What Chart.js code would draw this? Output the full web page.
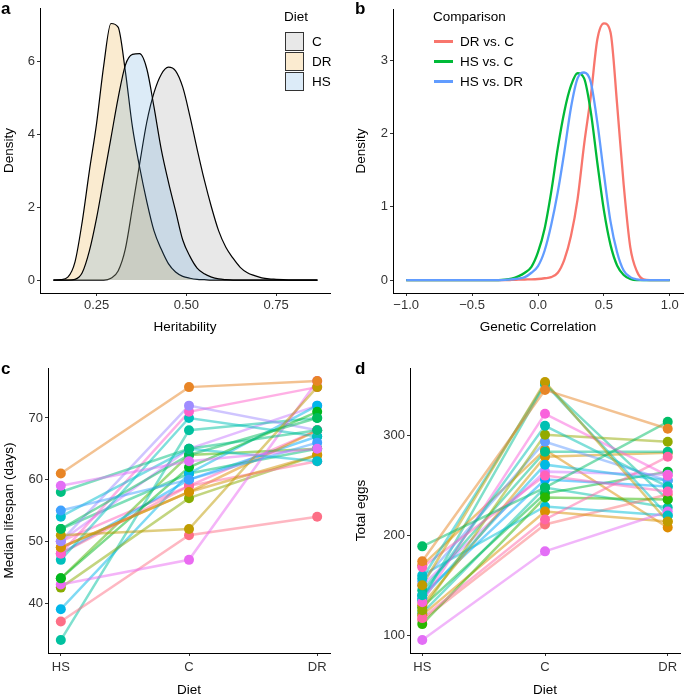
<!DOCTYPE html>
<html>
<head>
<meta charset="utf-8">
<script src="https://cdn.jsdelivr.net/npm/chart.js@4.4.0/dist/chart.umd.min.js"></script>
<style>
  body { margin: 0; width: 685px; height: 695px; overflow: hidden; background: #fff; position: relative;
         font-family: "Liberation Sans", Arial, sans-serif; }
  canvas { position: absolute; }
  .tag { position: absolute; font-weight: bold; font-size: 17px; line-height: 17px; color: #000; }
  .leg { position: absolute; font-size: 13.5px; line-height: 15px; color: #000; white-space: nowrap; }
  .box { position: absolute; width: 17px; height: 17px; border: 1.3px solid #333; }
  .seg { position: absolute; width: 19px; height: 2.5px; }
</style>
</head>
<body>
<canvas id="cA" width="340" height="365" style="left:0;top:-20px"></canvas>
<canvas id="cB" width="345" height="365" style="left:340px;top:-20px"></canvas>
<canvas id="cC" width="340" height="360" style="left:0;top:345px"></canvas>
<canvas id="cD" width="345" height="360" style="left:340px;top:345px"></canvas>

<div class="tag" style="left:1px;top:0px">a</div>
<div class="tag" style="left:355px;top:0px">b</div>
<div class="tag" style="left:1px;top:360px">c</div>
<div class="tag" style="left:355px;top:360px">d</div>

<!-- leyenda panel a -->
<div class="leg" style="left:284px;top:9px">Diet</div>
<div class="box" style="left:285px;top:32px;background:#e8e8e8"></div>
<div class="box" style="left:285px;top:52px;background:#fbebd0"></div>
<div class="box" style="left:285px;top:72px;background:#dcebf8"></div>
<div class="leg" style="left:312px;top:34px">C</div>
<div class="leg" style="left:312px;top:54px">DR</div>
<div class="leg" style="left:312px;top:74px">HS</div>

<!-- leyenda panel b -->
<div class="leg" style="left:433px;top:9px">Comparison</div>
<div class="seg" style="left:434px;top:40px;background:#F8766D"></div>
<div class="seg" style="left:434px;top:60px;background:#00BA38"></div>
<div class="seg" style="left:434px;top:80px;background:#619CFF"></div>
<div class="leg" style="left:460px;top:34px">DR vs. C</div>
<div class="leg" style="left:460px;top:54px">HS vs. C</div>
<div class="leg" style="left:460px;top:74px">HS vs. DR</div>

<script>
// ---- datos panel a: densidad de heredabilidad ----
const heritX = [0.13,0.15,0.17,0.19,0.21,0.23,0.25,0.27,0.29,0.31,0.33,0.35,0.37,0.39,0.41,0.43,0.45,0.47,0.49,
                0.51,0.53,0.55,0.57,0.59,0.61,0.63,0.65,0.67,0.69,0.71,0.73,0.75,0.77,0.79,0.81,0.83,0.85,0.865];
const densC  = [0,0,0,0,0,0,0,0,0.05,0.25,0.85,2.0,3.2,4.35,5.15,5.65,5.85,5.75,5.3,
                4.5,3.6,2.75,2.0,1.35,0.9,0.6,0.35,0.2,0.12,0.06,0.03,0.02,0.01,0,0,0,0,0];
const densDR = [0,0.01,0.08,0.5,1.6,3.0,4.3,5.9,7.05,6.95,5.75,4.2,3.1,2.15,1.35,0.85,0.45,0.22,0.1,
                0.05,0.02,0.01,0,0,0,0,0,0,0,0,0,0,0,0,0,0,0,0];
const densHS = [0,0,0,0.02,0.2,0.8,1.7,2.8,3.9,5.0,5.9,6.2,6.22,5.8,4.75,3.6,2.7,1.9,1.1,
                0.65,0.33,0.17,0.08,0.03,0.01,0,0,0,0,0,0,0,0,0,0,0,0,0];

// ---- datos panel b: correlación genética ----
const corrX    = [-1.0,-0.5,-0.3,-0.25,-0.2,-0.15,-0.1,-0.05,0.0,0.05,0.1,0.15,0.2,0.25,0.3,0.35,0.4,0.45,0.5,0.55,0.6,0.65,0.7,0.75,0.8,0.85,0.9,1.0];
const drVsC    = [0,0,0,0,0.002,0.005,0.008,0.01,0.015,0.025,0.04,0.1,0.28,0.6,1.1,1.85,2.5,3.28,3.5,3.38,2.4,1.3,0.45,0.12,0.01,0,0,0];
const hsVsC    = [0,0,0,0.005,0.02,0.05,0.1,0.18,0.38,0.7,1.2,1.8,2.3,2.65,2.82,2.75,2.3,1.6,0.95,0.48,0.2,0.07,0.015,0,0,0,0,0];
const hsVsDR   = [0,0,0,0.003,0.01,0.02,0.04,0.1,0.19,0.4,0.75,1.2,1.75,2.35,2.75,2.83,2.7,2.15,1.45,0.8,0.38,0.13,0.04,0.01,0,0,0,0];

// ---- datos paneles c y d: una línea por genotipo ----
const diets  = ['HS', 'C', 'DR'];
const lifeHS = [61,59,58,55,54,52,51,50,49,48,47,48,44,43,42.5,39,37,34,50,52,49,48,44,50];
const lifeC  = [75,63,65,60,65,64,52,72,58,71,70,59,62,47,57,61,51,68,65,61,58,60,64,59];
const lifeDR = [76,65,68,66,63,70,75,68,64,75,67,63,71,76,64,72,54,70,72,65,68,67,65,68];
const eggsHS = [174,189,150,157,95,168,140,133,125,117,111,154,137,145,130,120,160,115,150,140,128,170,135,122];
const eggsC  = [346,248,354,352,184,260,310,322,301,216,238,294,271,284,279,224,229,211,264,256,242,286,352,248];
const eggsDR = [307,314,214,220,224,244,249,260,294,279,236,255,255,284,283,214,220,241,261,249,264,208,236,228];

// tonos (estilo) de cada línea
const lifeHue = [35,300,160,250,200,145,70,270,55,330,190,355,130,305,100,220,5,175,285,155,45,240,120,340];
const eggHue  = [35,150,70,195,300,340,185,320,95,350,125,255,215,165,55,50,205,10,290,245,135,45,170,180];

// color hcl como ggplot (c=100, l=65)
function hcl(h, c = 100, l = 65) {
  const hr = h * Math.PI / 180;
  const U = c * Math.cos(hr), V = c * Math.sin(hr);
  const Y = Math.pow((l + 16) / 116, 3);
  const un = 0.19784, vn = 0.46834;
  const u = U / (13 * l) + un, v = V / (13 * l) + vn;
  const X = Y * 9 * u / (4 * v);
  const Z = Y * (12 - 3 * u - 20 * v) / (4 * v);
  const lin = [3.2406 * X - 1.5372 * Y - 0.4986 * Z,
               -0.9689 * X + 1.8758 * Y + 0.0415 * Z,
               0.0557 * X - 0.2040 * Y + 1.0570 * Z];
  return lin.map(t => {
    t = Math.max(0, Math.min(1, t));
    return Math.round(255 * (t <= 0.0031308 ? 12.92 * t : 1.055 * Math.pow(t, 1 / 2.4) - 0.055));
  });
}

const FAM = '"Liberation Sans", Arial, sans-serif';
const tickFont = { family: FAM, size: 13 };
const titleFont = { family: FAM, size: 13.5 };

function scale(o) {
  return {
    type: 'linear', min: o.min, max: o.max,
    afterBuildTicks: s => { s.ticks = o.ticks.map(v => ({ value: v })); },
    afterFit: s => {
      if (o.width) s.width = o.width;
      if (o.height) s.height = o.height;
    },
    border: { display: true, color: '#000', width: 1 },
    grid: { display: true, drawOnChartArea: false, tickLength: 3, tickColor: '#333', tickWidth: 1 },
    ticks: { color: '#333', font: tickFont, padding: o.tickPad || 2, maxRotation: 0, autoSkip: false, callback: o.fmt },
    title: { display: true, text: o.title, color: '#000', font: titleFont, padding: { top: o.tpad, bottom: o.tpad } }
  };
}

const baseOpts = (pad, x, y) => ({
  responsive: false, animation: false, events: [],
  layout: { padding: pad },
  plugins: { legend: { display: false }, tooltip: { enabled: false } },
  scales: { x, y }
});

const pts = (xs, ys) => xs.map((x, i) => ({ x, y: ys[i] }));

// ---- panel a ----
new Chart(document.getElementById('cA'), {
  type: 'line',
  data: {
    datasets: [
      { data: pts(heritX, densC), backgroundColor: 'rgba(140,140,140,0.2)', order: 3 },
      { data: pts(heritX, densDR), backgroundColor: 'rgba(230,155,20,0.2)', order: 2 },
      { data: pts(heritX, densHS), backgroundColor: 'rgba(80,155,215,0.2)', order: 1 }
    ].map(d => Object.assign(d, { fill: 'origin', borderColor: '#000', borderWidth: 1.2, pointRadius: 0, cubicInterpolationMode: 'monotone' }))
  },
  options: baseOpts({ top: 28, right: 10, left: 0, bottom: 0 },
    scale({ min: 0.0925, max: 0.9, ticks: [0.25, 0.5, 0.75], fmt: v => v.toFixed(2), title: 'Heritability', height: 52, tpad: 9.9 }),
    scale({ min: -0.356, max: 7.476, ticks: [0, 2, 4, 6], fmt: v => String(v), title: 'Density', width: 40, tpad: 0.9 }))
});

// ---- panel b ----
const compColors = ['#F8766D', '#00BA38', '#619CFF'];
new Chart(document.getElementById('cB'), {
  type: 'line',
  data: {
    datasets: [drVsC, hsVsC, hsVsDR].map((ys, i) => ({
      data: pts(corrX, ys), borderColor: compColors[i], borderWidth: 2.3, pointRadius: 0,
      fill: false, cubicInterpolationMode: 'monotone', order: 3 - i
    }))
  },
  options: baseOpts({ top: 29, right: 2, left: 0, bottom: 0 },
    scale({ min: -1.1, max: 1.1, ticks: [-1, -0.5, 0, 0.5, 1], fmt: v => (v < 0 ? '\u2212' : '') + Math.abs(v).toFixed(1), title: 'Genetic Correlation', height: 52, tpad: 9.9 }),
    scale({ min: -0.176, max: 3.696, ticks: [0, 1, 2, 3], fmt: v => String(v), title: 'Density', width: 53, tpad: 13.6 }))
});

// ---- paneles c y d ----
function paired(id, hs, c, dr, hues, yOpts, pad, yWidth, yTpad) {
  const lines = [], dots = [];
  hs.forEach((v, i) => {
    const [r, g, b] = hcl(hues[i]);
    const data = pts([1, 2, 3], [hs[i], c[i], dr[i]]);
    lines.push({ data, borderColor: `rgba(${r},${g},${b},0.5)`, borderWidth: 2.5, pointRadius: 0, fill: false, order: 2 });
    dots.push({ data, showLine: false, pointRadius: 5, pointBorderWidth: 0, pointBackgroundColor: `rgb(${r},${g},${b})`, order: 1 });
  });
  new Chart(document.getElementById(id), {
    type: 'line',
    data: { datasets: lines.concat(dots) },
    options: baseOpts(pad,
      scale({ min: 0.9, max: 3.1, ticks: [1, 2, 3], fmt: v => diets[v - 1], title: 'Diet', height: 52, tpad: 6.9, tickPad: 4 }),
      scale(Object.assign({ width: yWidth, tpad: yTpad, fmt: v => String(v) }, yOpts)))
  });
}

paired('cC', lifeHS, lifeC, lifeDR, lifeHue,
  { min: 31.9, max: 78.1, ticks: [40, 50, 60, 70], title: 'Median lifespan (days)' },
  { top: 23, right: 10, left: 0, bottom: 0 }, 48, 0.9);

paired('cD', eggsHS, eggsC, eggsDR, eggHue,
  { min: 82, max: 368, ticks: [100, 200, 300], title: 'Total eggs' },
  { top: 23, right: 1, left: 0, bottom: 0 }, 70, 13.6);
</script>
</body>
</html>
